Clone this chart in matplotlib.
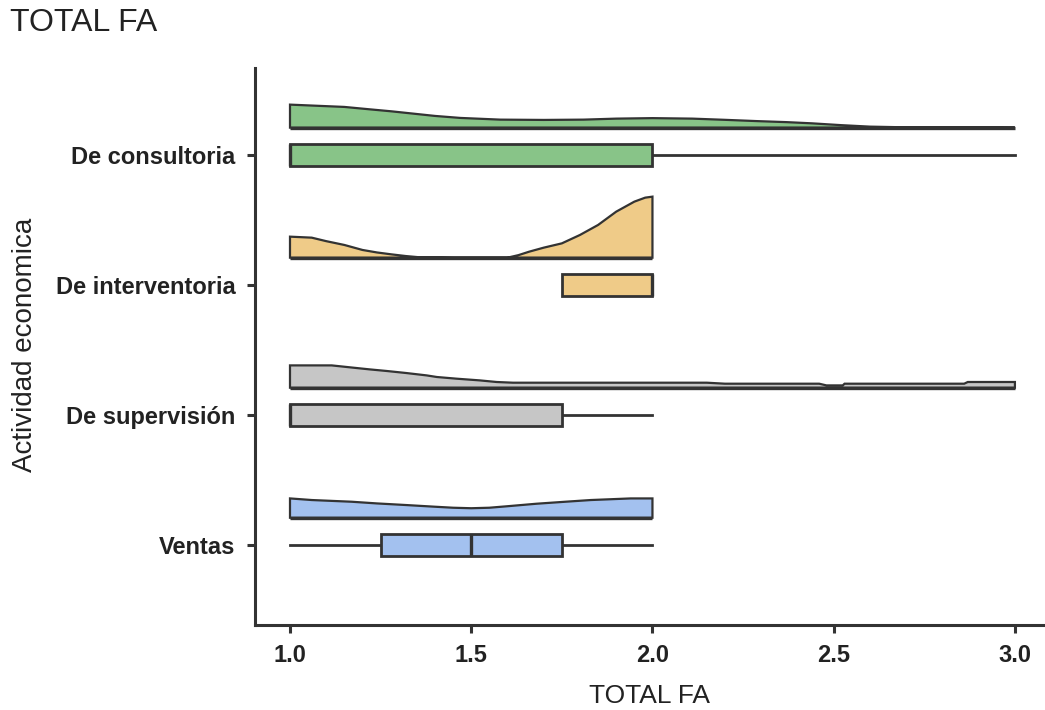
import matplotlib
matplotlib.use("Agg")
import matplotlib.pyplot as plt
import numpy as np

plt.rcParams['font.family'] = ['Liberation Sans', 'DejaVu Sans']

# ---- data ----
categories = ["Ventas", "De supervisión", "De interventoria", "De consultoria"]
colors = ["#a3c1ef", "#c6c6c6", "#efcb88", "#88c488"]

# box statistics (whislo, q1, median, q3, whishi)
box_whislo = [1.0, 1.0, 1.75, 1.0]
box_q1 = [1.25, 1.0, 1.75, 1.0]
box_med = [1.5, 1.0, 2.0, 1.0]
box_q3 = [1.75, 1.75, 2.0, 2.0]
box_whishi = [2.0, 2.0, 2.0, 3.0]

# density profiles (x grid and relative density height)
dens_x_ventas = [1.0, 1.06, 1.17, 1.24, 1.32, 1.4, 1.45, 1.5, 1.55, 1.6, 1.68, 1.76, 1.83, 1.94, 2.0]
dens_y_ventas = [19.3, 17.7, 16.0, 14.3, 12.7, 11.0, 10.0, 9.5, 10.0, 11.5, 14.0, 16.0, 17.7, 19.3, 19.3]

dens_x_superv = [1.0, 1.115, 1.175, 1.22, 1.267, 1.32, 1.377, 1.405, 1.46, 1.524, 1.57, 1.615,
                 2.15, 2.2, 2.46, 2.48, 2.525, 2.53, 2.86, 2.87, 3.0]
dens_y_superv = [22.3, 22.3, 20.0, 18.3, 16.7, 14.7, 12.3, 10.7, 9.0, 7.3, 5.7, 5.0,
                 5.0, 4.0, 4.0, 2.3, 2.3, 4.0, 4.0, 5.7, 5.7]

dens_x_interv = [1.0, 1.06, 1.1, 1.15, 1.2, 1.24, 1.28, 1.32, 1.36, 1.45, 1.6, 1.63, 1.66,
                 1.7, 1.75, 1.8, 1.85, 1.9, 1.95, 1.98, 2.0]
dens_y_interv = [21.0, 20.0, 16.5, 12.7, 7.7, 5.2, 3.3, 1.6, 0.3, 0.0, 0.0, 2.5, 6.0,
                 10.0, 14.3, 22.7, 32.7, 46.0, 56.0, 60.0, 61.0]

dens_x_consul = [1.0, 1.15, 1.22, 1.28, 1.34, 1.4, 1.47, 1.58, 1.7, 1.81, 1.9, 2.0, 2.11,
                 2.2, 2.29, 2.37, 2.44, 2.52, 2.6, 2.7, 3.0]
dens_y_consul = [23.0, 20.7, 18.3, 16.3, 14.0, 11.7, 9.7, 8.0, 7.7, 8.0, 9.0, 9.5, 9.0,
                 7.8, 6.5, 5.5, 4.3, 2.5, 1.0, 0.3, 0.0]

dens_x = [dens_x_ventas, dens_x_superv, dens_x_interv, dens_x_consul]
dens_y = [dens_y_ventas, dens_y_superv, dens_y_interv, dens_y_consul]

x_ticks = [1.0, 1.5, 2.0, 2.5, 3.0]

# ---- style ----
EDGE = "#333333"
DENS_SCALE = 1.0 / 130.0
DENS_OFFSET = 0.21
BOX_W = 0.165

fig = plt.figure(figsize=(10.45, 7.1), dpi=100)
ax = fig.add_axes([0.244, 0.1197, 0.756, 0.7846])

positions = np.arange(len(categories))

for i in range(len(categories)):
    xs = np.array(dens_x[i])
    hs = np.array(dens_y[i]) * DENS_SCALE
    base = positions[i] + DENS_OFFSET
    px = np.concatenate([[xs[0]], xs, [xs[-1]]])
    py = np.concatenate([[base], base + hs, [base]])
    ax.fill(px, py, facecolor=colors[i], edgecolor=EDGE, linewidth=1.6,
            joinstyle="miter", zorder=2)
    ax.plot([xs[0], xs[-1]], [base, base], color=EDGE, lw=2.4, zorder=3,
            solid_capstyle="butt")

stats = []
for i in range(len(categories)):
    stats.append(dict(whislo=box_whislo[i], q1=box_q1[i], med=box_med[i],
                      q3=box_q3[i], whishi=box_whishi[i], fliers=[]))

bp = ax.bxp(stats, positions=positions, widths=BOX_W, vert=False,
            patch_artist=True, showcaps=False, showfliers=False,
            boxprops=dict(edgecolor=EDGE, linewidth=2.0),
            medianprops=dict(color=EDGE, linewidth=2.4),
            whiskerprops=dict(color=EDGE, linewidth=2.0),
            manage_ticks=False)
for patch, c in zip(bp['boxes'], colors):
    patch.set_facecolor(c)
    patch.set_zorder(3)
for med in bp['medians']:
    med.set_zorder(4)
    med.set_solid_capstyle("butt")

ax.set_xlim(0.9034, 3.083)
ax.set_ylim(-0.615, 3.669)
ax.set_yticks(positions)
ax.set_yticklabels(categories)
ax.set_xticks(x_ticks)
ax.set_xticklabels([f"{v:.1f}" for v in x_ticks])

for s in ["top", "right"]:
    ax.spines[s].set_visible(False)
for s in ["left", "bottom"]:
    ax.spines[s].set_linewidth(2.2)
    ax.spines[s].set_color(EDGE)

ax.tick_params(axis="both", colors=EDGE, width=2.2, length=6, labelsize=17,
               labelcolor="#222222")
for lbl in ax.get_xticklabels() + ax.get_yticklabels():
    lbl.set_fontweight("bold")
ax.tick_params(axis="y", pad=8)
ax.tick_params(axis="x", pad=8)

ax.set_xlabel("TOTAL FA", fontsize=19, color="#222222", labelpad=12)
fig.text(0.024, 0.514, "Actividad economica", rotation=90, fontsize=20,
         color="#222222", ha="center", va="center")
fig.text(0.01, 0.968, "TOTAL FA", fontsize=23, color="#222222",
         ha="left", va="center")

fig.savefig("out.png", dpi=100)
